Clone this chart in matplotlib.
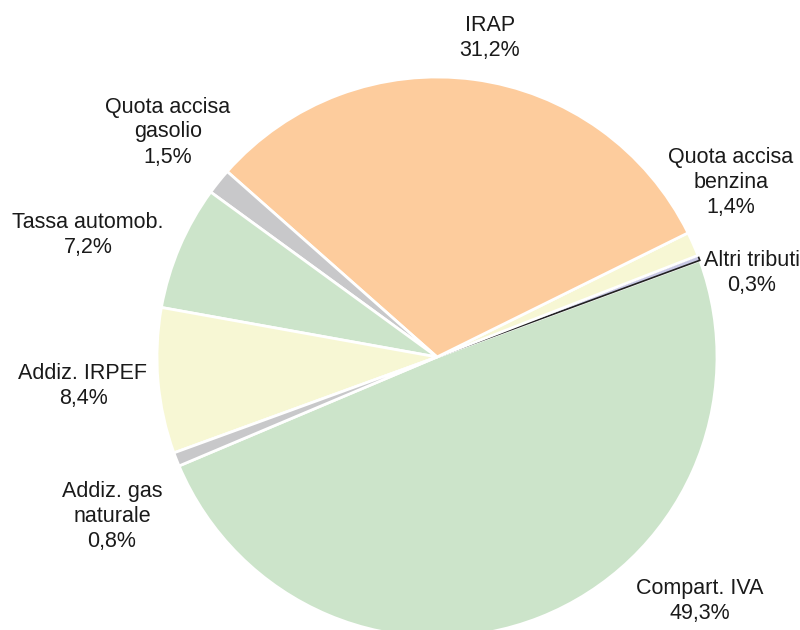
import matplotlib
matplotlib.use("Agg")
import matplotlib.pyplot as plt

plt.rcParams['font.family'] = ['Liberation Sans', 'DejaVu Sans']

# shares (%), counterclockwise starting from Compart. IVA
labels = ["Compart. IVA", "Altri tributi", "Quota accisa\nbenzina", "IRAP",
          "Quota accisa\ngasolio", "Tassa automob.", "Addiz. IRPEF",
          "Addiz. gas\nnaturale"]
values = [49.3, 0.3, 1.4, 31.2, 1.5, 7.2, 8.4, 0.8]
value_text = ["49,3%", "0,3%", "1,4%", "31,2%", "1,5%", "7,2%", "8,4%", "0,8%"]
colors = ["#cce4ca", "#c8c8e4", "#f7f7d4", "#fdcc9d", "#c8c8ca",
          "#cce4ca", "#f7f7d4", "#c8c8ca"]
# label centres (pixels of the 800x630 picture)
label_px = [(700, 601), (752, 273), (731, 182), (490, 38),
            (168, 132), (88, 235), (83, 386), (112, 517)]

CX, CY, R = 437, 357, 280

fig = plt.figure(figsize=(8, 6.3), dpi=100)
ax = fig.add_axes([0, 0, 1, 1])

total = sum(values)
start = 20.2 - values[0] / total * 360
wedges, _ = ax.pie(values, colors=colors, startangle=start, radius=1,
                   wedgeprops=dict(edgecolor="white", linewidth=2))
wedges[1].set_edgecolor("#222222")
wedges[1].set_linewidth(1.2)

for lab, vt, (px, py) in zip(labels, value_text, label_px):
    ax.text((px - CX) / R, (CY - py) / R, lab + "\n" + vt, ha="center",
            va="center", fontsize=15.5, color="#1a1a1a", linespacing=1.25)

ax.set_xlim(-CX / R, (800 - CX) / R)
ax.set_ylim((CY - 630) / R, CY / R)
ax.set_aspect("equal")
ax.axis("off")
fig.savefig("out.png", dpi=100)
